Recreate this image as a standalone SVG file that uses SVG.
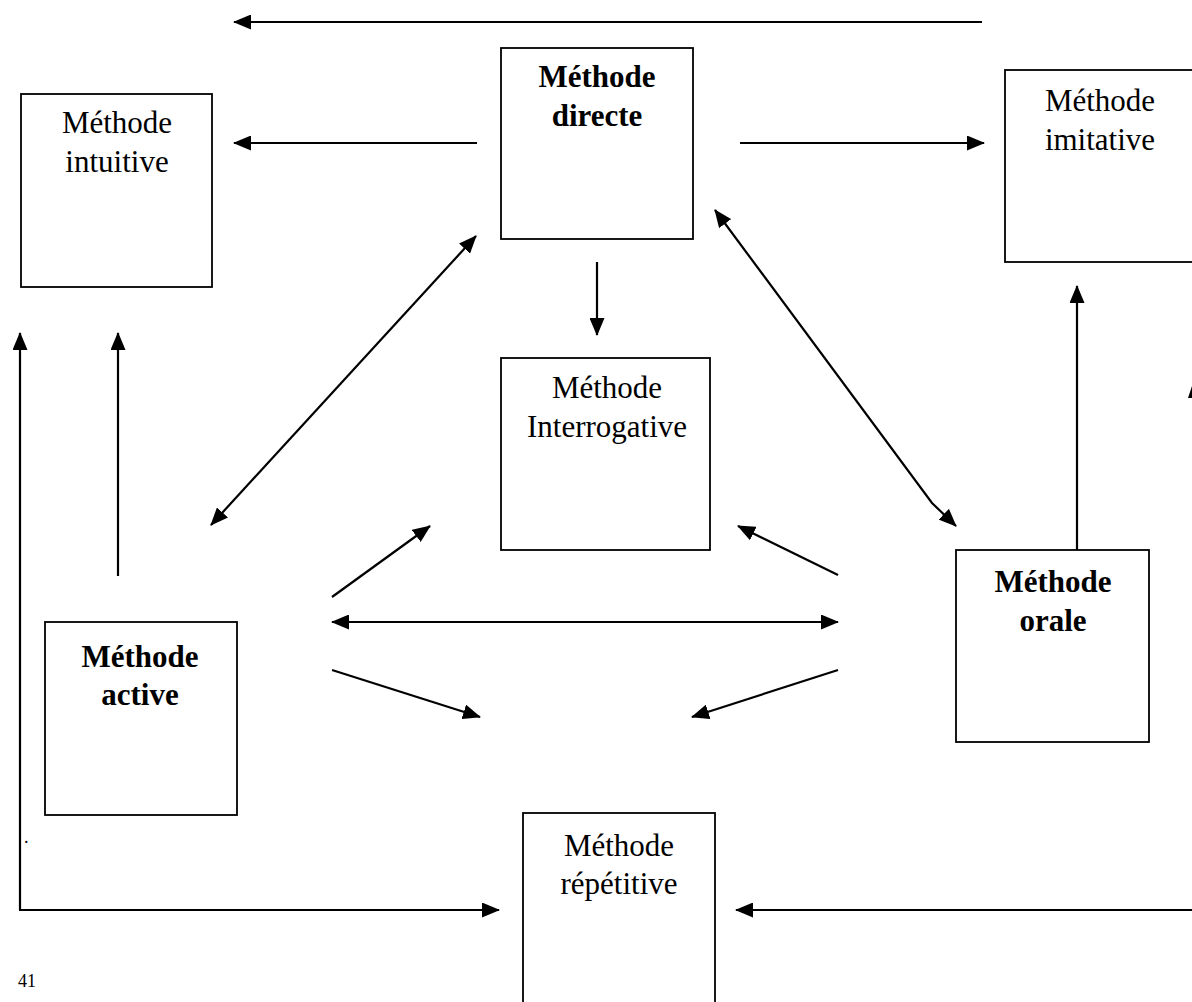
<svg xmlns="http://www.w3.org/2000/svg" width="1192" height="1002" viewBox="0 0 1192 1002">
<style>
.box{fill:#fff;stroke:#000;stroke-width:1.8}
.t{font-family:"Liberation Serif","Times New Roman",serif;font-size:31px;fill:#000;text-anchor:middle}
.b{font-weight:bold}
.c{fill:none;stroke:#000;stroke-width:2.2}
.page{font-family:"Liberation Serif","Times New Roman",serif;font-size:18px;fill:#000}
</style>
<defs>
<marker id="ah" markerUnits="userSpaceOnUse" markerWidth="19" markerHeight="15" refX="17" refY="7.5" orient="auto-start-reverse" viewBox="0 0 19 15">
<path d="M0,0 L18,7.5 L0,15 z" fill="#000"/>
</marker>
</defs>
<rect width="1192" height="1002" fill="#fff"/>

<g id="connectors">
<line class="c" x1="982" y1="22" x2="234" y2="22" marker-end="url(#ah)"/>
<line class="c" x1="477" y1="143" x2="234" y2="143" marker-end="url(#ah)"/>
<line class="c" x1="740" y1="143" x2="984" y2="143" marker-end="url(#ah)"/>
<line class="c" x1="597" y1="262" x2="597" y2="335" marker-end="url(#ah)"/>
<line class="c" x1="211" y1="525" x2="476" y2="236" marker-start="url(#ah)" marker-end="url(#ah)"/>
<polyline class="c" points="715,210 932,503 956,526" marker-start="url(#ah)" marker-end="url(#ah)"/>
<line class="c" x1="118" y1="576" x2="118" y2="333" marker-end="url(#ah)"/>
<polyline class="c" points="20,910 20,333" marker-end="url(#ah)"/>
<line class="c" x1="19" y1="910" x2="499" y2="910" marker-end="url(#ah)"/>
<line class="c" x1="1192" y1="910" x2="736" y2="910" marker-end="url(#ah)"/>
<line class="c" x1="1077" y1="554" x2="1077" y2="286" marker-end="url(#ah)"/>
<line class="c" x1="332" y1="597" x2="430" y2="526" marker-end="url(#ah)"/>
<line class="c" x1="332" y1="622" x2="838" y2="622" marker-start="url(#ah)" marker-end="url(#ah)"/>
<line class="c" x1="332" y1="670" x2="480" y2="717" marker-end="url(#ah)"/>
<line class="c" x1="838" y1="575" x2="738" y2="526" marker-end="url(#ah)"/>
<line class="c" x1="838" y1="670" x2="692" y2="717" marker-end="url(#ah)"/>
<path d="M1192,386 L1188,398 L1192,398 z" fill="#000"/>
</g>

<g id="intuitive">
<rect class="box" x="21" y="94" width="191" height="193"/>
<text class="t" x="117" y="133">Méthode</text>
<text class="t" x="117" y="172">intuitive</text>
</g>

<g id="directe">
<rect class="box" x="501" y="48" width="192" height="191"/>
<text class="t b" x="597" y="87">Méthode</text>
<text class="t b" x="597" y="126">directe</text>
</g>

<g id="imitative">
<rect class="box" x="1005" y="70" width="200" height="192"/>
<text class="t" x="1100" y="111">Méthode</text>
<text class="t" x="1100" y="150">imitative</text>
</g>

<g id="interrogative">
<rect class="box" x="501" y="358" width="209" height="192"/>
<text class="t" x="607" y="398">Méthode</text>
<text class="t" x="607" y="437">Interrogative</text>
</g>

<g id="orale">
<rect class="box" x="956" y="550" width="193" height="192"/>
<text class="t b" x="1053" y="592">Méthode</text>
<text class="t b" x="1053" y="631">orale</text>
</g>

<g id="active">
<rect class="box" x="45" y="622" width="192" height="193"/>
<text class="t b" x="140" y="667">Méthode</text>
<text class="t b" x="140" y="705">active</text>
</g>

<g id="repetitive">
<rect class="box" x="523" y="813" width="192" height="200"/>
<text class="t" x="619" y="856">Méthode</text>
<text class="t" x="619" y="894">répétitive</text>
</g>

<text class="page" x="24" y="843">.</text>
<text class="page" x="18" y="987">41</text>
</svg>
